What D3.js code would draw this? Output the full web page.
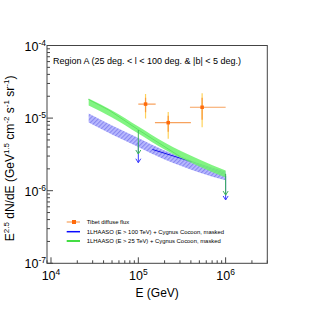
<!DOCTYPE html>
<html>
<head>
<meta charset="utf-8">
<script src="https://cdn.jsdelivr.net/npm/d3@7"></script>
<style>
  body { margin: 0; background: #fff; }
  text { font-family: "Liberation Sans", Arial, sans-serif; fill: #000; }
</style>
</head>
<body>
<div id="chart"></div>
<script>
(function () {
  "use strict";

  // Tibet diffuse flux points
  let tibetE = [1.21e5, 2.2e5, 5.38e5]
  let tibetF = [1.56e-5, 8.65e-6, 1.41e-5]
  let tibetElo = [1.0e5, 1.55e5, 3.9e5]
  let tibetEhi = [1.58e5, 4.0e5, 1.0e6]
  let tibetSysLo = [9.9e-6, 5.2e-6, 7.5e-6]
  let tibetSysHi = [2.15e-5, 1.21e-5, 2.2e-5]
  let tibetStatLo = [1.2e-5, 6.5e-6, 9.5e-6]
  let tibetStatHi = [1.9e-5, 1.08e-5, 1.9e-5]

  // model bands (E > 25 TeV in green, E > 100 TeV in blue)
  let bandE = [2.7e4, 5e4, 1e5, 2e5, 5e5, 1e6]
  let greenMid = [1.67e-5, 1.14e-5, 6.86e-6, 4.13e-6, 2.41e-6, 1.70e-6]
  let blueMid = [1.0e-5, 6.86e-6, 4.61e-6, 3.10e-6, 2.06e-6, 1.60e-6]
  let greenFactor = 1.117
  let blueFactor = 1.153

  // best fit lines
  let greenLineE = [2.7e4, 4.6e4, 1e5, 3.1e5, 4.8e5, 1e6]
  let greenLineF = [1.8e-5, 1.29e-5, 6.9e-6, 2.88e-6, 2.33e-6, 1.68e-6]
  let blueLineE = [1.45e5, 4.1e5]
  let blueLineF = [3.7e-6, 2.5e-6]

  // upper limits
  let ulE = [1e5, 1e6]
  let ulGreenTop = [6.86e-6, 1.70e-6]
  let ulGreenBot = [3.2e-6, 8.7e-7]
  let ulBlueTop = [4.61e-6, 1.6e-6]
  let ulBlueBot = [2.43e-6, 7.45e-7]

  let xMajors = [1e4, 1e5, 1e6]
  let xLabels = ['4', '5', '6']
  let yMajors = [1e-4, 1e-5, 1e-6, 1e-7]
  let yLabels = ['-4', '-5', '-6', '-7']

  let legendLabels = [
    'Tibet diffuse flux',
    '1LHAASO (E > 100 TeV) + Cygnus Cocoon, masked',
    '1LHAASO (E > 25 TeV) + Cygnus Cocoon, masked'
  ]

  let W = 315, H = 310
  let left = 47, right = 267.3, top = 45.5, bottom = 263.3

  let x = d3.scaleLog().domain([9e3, 3e6]).range([left, right])
  let y = d3.scaleLog().domain([1e-7, 1e-4]).range([bottom, top])

  let svg = d3.select('#chart').append('svg')
    .attr('width', W).attr('height', H)

  let defs = svg.append('defs')
  let pat = defs.append('pattern')
    .attr('id', 'hatch')
    .attr('patternUnits', 'userSpaceOnUse')
    .attr('width', 3).attr('height', 3)
    .attr('patternTransform', 'rotate(45)')
  pat.append('rect').attr('width', 3).attr('height', 3).attr('fill', '#b4b4ff')
  pat.append('rect').attr('width', 1.2).attr('height', 3).attr('fill', '#7a7aee')

  defs.append('clipPath').attr('id', 'plotclip')
    .append('rect').attr('x', left).attr('y', top)
    .attr('width', right - left).attr('height', bottom - top)

  let g = svg.append('g').attr('clip-path', 'url(#plotclip)')

  // lines under the bands
  let line = d3.line().x(d => x(d[0])).y(d => y(d[1]))
  g.append('path')
    .attr('d', line(greenLineE.map((e, i) => [e, greenLineF[i]])))
    .attr('fill', 'none').attr('stroke', '#1c9a2a').attr('stroke-width', 1)

  let area = d3.area().x(d => x(d.e)).y0(d => y(d.lo)).y1(d => y(d.hi))
    .curve(d3.curveMonotoneX)

  g.append('path')
    .attr('d', area(bandE.map((e, i) => ({ e: e, lo: blueMid[i] / blueFactor, hi: blueMid[i] * blueFactor }))))
    .attr('fill', 'url(#hatch)').attr('opacity', 0.9)

  g.append('path')
    .attr('d', line(blueLineE.map((e, i) => [e, blueLineF[i]])))
    .attr('fill', 'none').attr('stroke', '#1414e6').attr('stroke-width', 1)

  g.append('path')
    .attr('d', area(bandE.map((e, i) => ({ e: e, lo: greenMid[i] / greenFactor, hi: greenMid[i] * greenFactor }))))
    .attr('fill', '#6cf26c').attr('opacity', 0.85)

  // upper limit arrows
  function arrow(xe, f0, f1, color) {
    let px = x(xe), y0 = y(f0), y1 = y(f1)
    g.append('line').attr('x1', px).attr('x2', px).attr('y1', y0).attr('y2', y1)
      .attr('stroke', color).attr('stroke-width', 1)
    g.append('path')
      .attr('d', `M${px - 2.5},${y1 - 4}L${px},${y1}L${px + 2.5},${y1 - 4}`)
      .attr('fill', 'none').attr('stroke', color).attr('stroke-width', 1)
  }
  ulE.forEach(function (e, i) {
    arrow(e, ulBlueTop[i], ulBlueBot[i], '#3a3aff')
    arrow(e, ulGreenTop[i], ulGreenBot[i], '#3cb45a')
  })

  // Tibet points
  tibetE.forEach(function (e, i) {
    let px = x(e), py = y(tibetF[i])
    g.append('line').attr('x1', x(tibetElo[i])).attr('x2', x(tibetEhi[i]))
      .attr('y1', py).attr('y2', py)
      .attr('stroke', '#f7a25e').attr('stroke-width', 1.2)
    g.append('line').attr('x1', px).attr('x2', px)
      .attr('y1', y(tibetSysHi[i])).attr('y2', y(tibetSysLo[i]))
      .attr('stroke', '#ffd25a').attr('stroke-width', 1.2)
    g.append('line').attr('x1', px).attr('x2', px)
      .attr('y1', y(tibetStatHi[i])).attr('y2', y(tibetStatLo[i]))
      .attr('stroke', '#f99a3c').attr('stroke-width', 1.2)
    g.append('rect').attr('x', px - 1.75).attr('y', py - 1.75)
      .attr('width', 3.5).attr('height', 3.5).attr('fill', '#ff6a0a')
  })

  // ticks
  let ax = svg.append('g').attr('stroke', '#444').attr('stroke-width', 1)
  let xTicks = x.ticks().filter(t => t >= 9e3 && t <= 3e6)
  xTicks.forEach(function (t) {
    let major = xMajors.indexOf(t) >= 0
    let len = major ? 6 : 3
    ax.append('line').attr('x1', x(t)).attr('x2', x(t))
      .attr('y1', bottom).attr('y2', bottom - len)
  })
  let yTicks = y.ticks()
  yTicks.forEach(function (t) {
    let major = yMajors.some(m => Math.abs(m - t) / m < 1e-6)
    let len = major ? 6 : 3
    ax.append('line').attr('x1', left).attr('x2', left + len)
      .attr('y1', y(t)).attr('y2', y(t))
  })

  svg.append('rect').attr('x', left).attr('y', top)
    .attr('width', right - left).attr('height', bottom - top)
    .attr('fill', 'none').attr('stroke', '#444').attr('stroke-width', 1)

  // tick labels
  xMajors.forEach(function (t, i) {
    let tx = svg.append('text').attr('x', x(t)).attr('y', 280)
      .attr('text-anchor', 'middle').attr('font-size', 12.5)
    tx.append('tspan').text('10')
    tx.append('tspan').attr('dy', -5).attr('font-size', 8.5).text(xLabels[i])
  })
  yMajors.forEach(function (t, i) {
    let tx = svg.append('text').attr('x', left - 1).attr('y', y(t) + 5)
      .attr('text-anchor', 'end').attr('font-size', 12.5)
    tx.append('tspan').text('10')
    tx.append('tspan').attr('dy', -5).attr('font-size', 8.5).text(yLabels[i])
  })

  // axis titles
  svg.append('text').attr('x', (left + right) / 2).attr('y', 297)
    .attr('text-anchor', 'middle').attr('font-size', 12).text('E (GeV)')

  let yt = svg.append('text')
    .attr('transform', `translate(13.5,${(top + bottom) / 2 + 4}) rotate(-90)`)
    .attr('text-anchor', 'middle').attr('font-size', 12)
  let parts = [['E', 0], ['2.5', 1], [' dN/dE (GeV', 0], ['1.5', 1], [' cm', 0], ['-2', 1],
    [' s', 0], ['-1', 1], [' sr', 0], ['-1', 1], [')', 0]]
  let up = false
  parts.forEach(function (p) {
    let ts = yt.append('tspan').text(p[0])
    if (p[1] && !up) { ts.attr('dy', -5).attr('font-size', 8); up = true }
    else if (!p[1] && up) { ts.attr('dy', 5); up = false }
  })

  // region label
  svg.append('text').attr('x', 53).attr('y', 63.5).attr('font-size', 9)
    .text('Region A (25 deg. < l < 100 deg. & |b| < 5 deg.)')

  // legend
  let legY = [222, 231.7, 241]
  let lg = svg.append('g')
  lg.append('line').attr('x1', 66.7).attr('x2', 80).attr('y1', legY[0]).attr('y2', legY[0])
    .attr('stroke', '#f7a25e').attr('stroke-width', 1.2)
  lg.append('rect').attr('x', 72).attr('y', legY[0] - 2).attr('width', 4).attr('height', 4)
    .attr('fill', '#ff6a0a')
  lg.append('line').attr('x1', 66.7).attr('x2', 80).attr('y1', legY[1]).attr('y2', legY[1])
    .attr('stroke', '#0a0aff').attr('stroke-width', 1.5)
  lg.append('line').attr('x1', 66.7).attr('x2', 80).attr('y1', legY[2]).attr('y2', legY[2])
    .attr('stroke', '#44dd44').attr('stroke-width', 2)
  legendLabels.forEach(function (l, i) {
    lg.append('text').attr('x', 86.7).attr('y', legY[i] + 2).attr('font-size', 5.9).text(l)
  })
}());
</script>
</body>
</html>
